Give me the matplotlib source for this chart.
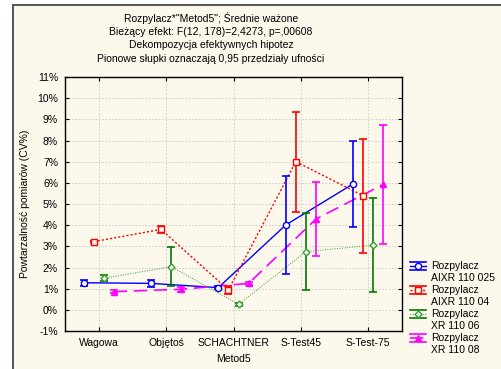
import matplotlib.pyplot as plt
from matplotlib.patches import Rectangle
from matplotlib.lines import Line2D
from matplotlib.legend_handler import HandlerBase
from matplotlib.ticker import FuncFormatter

plt.rcParams['font.family'] = ['Liberation Sans', 'DejaVu Sans']

categories = ['Wagowa', 'Objętoś', 'SCHACHTNER', 'S-Test45', 'S-Test-75']
series_names = ['Rozpylacz\nAIXR 110 025', 'Rozpylacz\nAIXR 110 04',
                'Rozpylacz\nXR 110 06', 'Rozpylacz\nXR 110 08']
means = [
    [1.28, 1.25, 1.05, 4.01, 5.95],
    [3.22, 3.80, 0.94, 7.00, 5.39],
    [1.49, 2.04, 0.26, 2.75, 3.06],
    [0.86, 0.97, 1.25, 4.29, 5.93],
]
errs = [
    [0.15, 0.15, 0.06, 2.30, 2.05],
    [0.05, 0.15, 0.20, 2.37, 2.70],
    [0.14, 0.91, 0.08, 1.83, 2.24],
    [0.06, 0.12, 0.08, 1.76, 2.80],
]

bg = '#fcf8ec'
line_colors = ['#0000ff', '#ff0000', '#33a033', '#ff00ff']
err_colors = ['#0000ff', '#ff0000', '#007a00', '#ff00ff']
styles = ['-', (0, (1.5, 1.5)), (0, (1, 1.5)), (0, (8, 4))]
widths = [1.0, 1.0, 0.7, 1.2]
markers = ['o', 's', 'D', '^']
msizes = [4.5, 4.5, 3.5, 4.5]
mfaces = [bg, bg, bg, '#ff00ff']
offsets = [-0.225, -0.075, 0.075, 0.225]


class CapHandler(HandlerBase):
    # legend key: cap line on top and bottom, series line with marker between
    def create_artists(self, legend, orig, xd, yd, w, h, fontsize, trans):
        i = orig.idx
        ym = h / 2 - yd + 4.5
        x0, x1 = -xd, -xd + w
        arts = []
        for yy in (ym + 2.8, ym - 2.8):
            arts.append(Line2D([x0, x1], [yy, yy], color=err_colors[i],
                               linewidth=1.2, transform=trans))
        arts.append(Line2D([x0, x1], [ym, ym], color=line_colors[i],
                           linestyle=styles[i], linewidth=widths[i],
                           transform=trans))
        arts.append(Line2D([(x0 + x1) / 2], [ym], linestyle='none',
                           marker=markers[i], markersize=msizes[i],
                           markerfacecolor=mfaces[i],
                           markeredgecolor=line_colors[i], transform=trans))
        return arts


fig = plt.figure(figsize=(5.01, 3.69), dpi=100)
fig.patch.set_facecolor('white')
fig.patches.append(Rectangle((13 / 501, -0.1), 1.0, 1 - 5 / 369 + 0.1,
                             transform=fig.transFigure, facecolor=bg,
                             edgecolor='#555555', linewidth=1.4, zorder=-5))

ax = fig.add_axes([65 / 501, 1 - 331 / 369, 337 / 501, 254 / 369])
ax.set_facecolor(bg)
ax.set_zorder(2)

for i in range(4):
    xs = [k + offsets[i] for k in range(len(categories))]
    ax.plot(xs, means[i], color=line_colors[i], linestyle=styles[i],
            linewidth=widths[i], zorder=2)
    ax.errorbar(xs, means[i], yerr=errs[i], fmt='none', ecolor=err_colors[i],
                elinewidth=1.2, capsize=3.2, capthick=1.2, zorder=3)
    ax.plot(xs, means[i], linestyle='none', marker=markers[i],
            markersize=msizes[i], markerfacecolor=mfaces[i],
            markeredgecolor=line_colors[i], markeredgewidth=1, zorder=4)

ax.set_xlim(-0.5, 4.5)
ax.set_ylim(-1, 11)
ax.set_xticks(range(len(categories)))
ax.set_xticklabels(categories, fontsize=7.5)
ax.set_yticks(range(-1, 12))
ax.yaxis.set_major_formatter(FuncFormatter(lambda v, p: '%d%%' % v))
ax.tick_params(axis='y', labelsize=7.5)
ax.tick_params(direction='in', length=3, top=True, right=True, pad=5)
ax.grid(True, color='#c8c8c8', linestyle=(0, (2, 2)), linewidth=0.6)
ax.set_axisbelow(True)
for s in ax.spines.values():
    s.set_linewidth(1.0)
ax.set_xlabel('Metod5', fontsize=7.5, labelpad=4)
ax.set_ylabel('Powtarzalność pomiarów (CV%)', fontsize=7.5, labelpad=5)

title_lines = ['Rozpylacz*"Metod5"; Średnie ważone',
               'Bieżący efekt: F(12, 178)=2,4273, p=,00608',
               'Dekompozycja efektywnych hipotez',
               'Pionowe słupki oznaczają 0,95 przedziały ufności']
for j, t in enumerate(title_lines):
    fig.text(211 / 501, 1 - (18 + 13.7 * j) / 369, t, ha='center',
             va='center', fontsize=7.5)

handles = []
for i in range(4):
    h = Line2D([], [])
    h.idx = i
    handles.append(h)
fig.legend(handles, series_names, loc='upper left',
           bbox_to_anchor=(404 / 501, 1 - 255 / 369), frameon=False,
           fontsize=7.5, handlelength=1.5, labelspacing=0.22,
           handletextpad=0.5, borderaxespad=0.2,
           handler_map={Line2D: CapHandler()})

fig.savefig('out.png', dpi=100, facecolor=fig.get_facecolor())
